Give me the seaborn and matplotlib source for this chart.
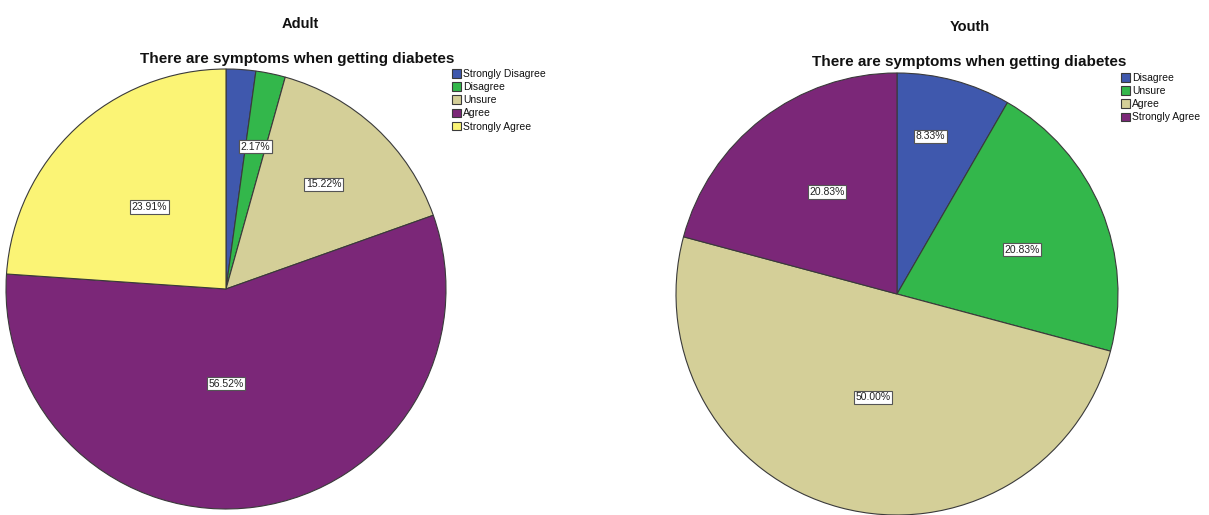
import matplotlib
matplotlib.use("Agg")
import matplotlib.pyplot as plt
import seaborn as sns
import numpy as np

# Survey responses: "There are symptoms when getting diabetes"
adult_categories = ["Strongly Disagree", "Disagree", "Unsure", "Agree", "Strongly Agree"]
adult_values = [2.17, 2.17, 15.22, 56.52, 23.91]

youth_categories = ["Disagree", "Unsure", "Agree", "Strongly Agree"]
youth_values = [8.33, 20.83, 50.00, 20.83]

question = "There are symptoms when getting diabetes"

palette = {
    "Strongly Disagree": "#3f58ad",
    "Disagree": "#33b74b",
    "Unsure": "#d4cf98",
    "Agree": "#7b2778",
    "Strongly Agree": "#fbf475",
}
youth_palette = {
    "Disagree": "#3f58ad",
    "Unsure": "#33b74b",
    "Agree": "#d4cf98",
    "Strongly Agree": "#7b2778",
}

sns.set_theme(style="white")
plt.rcParams["font.family"] = ["Liberation Sans", "DejaVu Sans"]
plt.rcParams["text.color"] = "#111111"

W, H = 1209, 515
fig = plt.figure(figsize=(W / 100, H / 100), dpi=100)
ax = fig.add_axes([0, 0, 1, 1])


def draw_pie(values, cats, colors, center, radius, label_frac, label_anchor, label_turn):
    cx, cy = center
    wedges, _ = ax.pie(
        values,
        colors=[colors[c] for c in cats],
        startangle=90,
        counterclock=False,
        radius=radius,
        center=(cx, H - cy),
        frame=True,
        wedgeprops=dict(edgecolor="#3a3a3a", linewidth=0.8),
    )
    for i, v in enumerate(values):
        w = wedges[label_anchor[i]]
        ang = np.deg2rad((w.theta1 + w.theta2) / 2 - label_turn[i])
        r = radius * label_frac[i]
        ax.text(
            cx + r * np.cos(ang), H - cy + r * np.sin(ang),
            f"{v:.2f}%", fontsize=7.5, ha="center", va="center", color="#222222",
            bbox=dict(boxstyle="square,pad=0.15", facecolor="white",
                      edgecolor="#555555", linewidth=0.8),
        )
    return wedges


adult_wedges = draw_pie(adult_values, adult_categories, palette, (226, 289), 220,
                        [0.66, 0.66, 0.65, 0.43, 0.51], [1, 1, 2, 3, 4], [0, 0, 0, 8, 0])
youth_wedges = draw_pie(youth_values, youth_categories, youth_palette, (897, 294), 221,
                        [0.73, 0.60, 0.48, 0.56], [0, 1, 2, 3], [-3, 3, -2, 3])

ax.set_xlim(0, W)
ax.set_ylim(0, H)
ax.axis("off")

# Group titles and question headings
ax.text(300, H - 24, "Adult", fontsize=10.5, fontweight="bold", ha="center", va="center")
ax.text(297, H - 59, question, fontsize=11, fontweight="bold", ha="center", va="center")
ax.text(970, H - 27, "Youth", fontsize=10.5, fontweight="bold", ha="center", va="center")
ax.text(969, H - 62, question, fontsize=11, fontweight="bold", ha="center", va="center")

legend_kw = dict(
    loc="upper left", frameon=False, fontsize=7.5, handlelength=0.85, handleheight=0.85,
    handletextpad=0.25, labelspacing=0.3, borderpad=0, borderaxespad=0,
)
fig.legend(adult_wedges, adult_categories, bbox_to_anchor=(452 / W, 1 - 69 / H), **legend_kw)
fig.legend(youth_wedges, youth_categories, bbox_to_anchor=(1121 / W, 1 - 73 / H), **legend_kw)

fig.savefig("out.png", dpi=100)
